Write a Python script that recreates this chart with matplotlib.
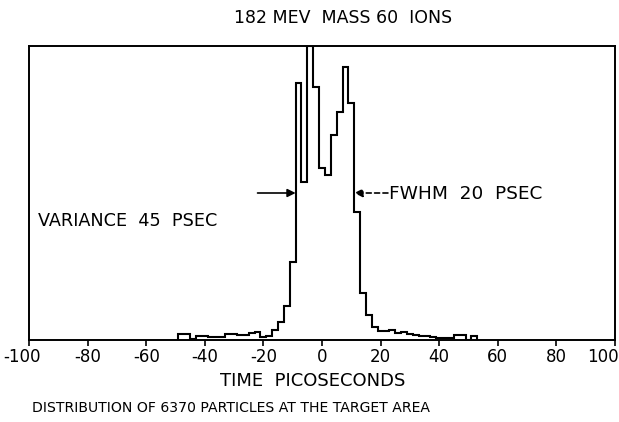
import numpy as np
import matplotlib
matplotlib.use("Agg")
import matplotlib.pyplot as plt
import matplotlib.transforms as mtransforms

# ---- data (counts per 2 ps bin) ----
bin_width = 2.0
first_edge = -49.0
counts = [14, 14, 2, 9, 9, 7, 7, 7, 14, 14, 12, 12, 16, 18, 7, 9, 23, 41, 78, 180,
          591, 363, 676, 582, 396, 380, 472, 524, 628, 545, 294,
          108, 58, 30, 21, 21, 23, 16, 18, 14, 12, 9, 9, 7, 5, 5, 5, 12, 12, 0, 9]
tick_values = [-100, -80, -60, -40, -20, 0, 20, 40, 60, 80, 100]
tick_labels = ["-100", "-80", "-60", "-40", "-20", "0", "20", "40", "60", "80", "100"]
fwhm_left, fwhm_right = -9.0, 11.0
title = "182 MEV  MASS 60  IONS"
xlabel = "TIME  PICOSECONDS"
caption = "DISTRIBUTION OF 6370 PARTICLES AT THE TARGET AREA"
variance_text = "VARIANCE  45  PSEC"
fwhm_text = "FWHM  20  PSEC"

plt.rcParams['font.family'] = ['DejaVu Sans']
W, H = 619, 422
fig = plt.figure(figsize=(W / 100, H / 100), dpi=100)
ax = fig.add_axes([29 / W, (H - 340) / H, (615 - 29) / W, (340 - 46) / H])

counts_arr = np.array(counts, dtype=float)
edges = first_edge + bin_width * np.arange(len(counts_arr) + 1)
ax.stairs(counts_arr, edges, baseline=0, color="black", linewidth=1.5)

peak = counts_arr.max()
ax.set_xlim(-100, 100)
ax.set_ylim(0, peak)
for s in ax.spines.values():
    s.set_linewidth(1.4)
ax.set_yticks([])
ax.set_xticks(tick_values)
ax.set_xticklabels(tick_labels, fontsize=12)
ax.tick_params(axis="x", direction="out", length=4, width=1.2, pad=2)
labels = ax.get_xticklabels()
labels[0].set_transform(labels[0].get_transform() +
                        mtransforms.ScaledTranslation(-7 / 100, 0, fig.dpi_scale_trans))
labels[-1].set_horizontalalignment("right")
labels[-1].set_transform(labels[-1].get_transform() +
                         mtransforms.ScaledTranslation(4 / 100, 0, fig.dpi_scale_trans))

half = peak / 2
ax.annotate("", xy=(fwhm_left, half), xytext=(-22, half),
            arrowprops=dict(arrowstyle="-|>", color="black", lw=1.2,
                            mutation_scale=12, shrinkA=0, shrinkB=0))
ax.annotate("", xy=(fwhm_right, half), xytext=(22.5, half),
            arrowprops=dict(arrowstyle="-|>", color="black", lw=1.2, linestyle=(0, (3, 2)),
                            mutation_scale=12, shrinkA=0, shrinkB=0))
ax.text(23.0, half - 2, fwhm_text, fontsize=13.3, va="center", ha="left")

fig.text(38 / W, 1 - 221 / H, variance_text, fontsize=12.7, va="center", ha="left")
fig.text(343 / W, 1 - 18 / H, title, fontsize=12.5, va="center", ha="center")
fig.text(313 / W, 1 - 381 / H, xlabel, fontsize=13, va="center", ha="center")
fig.text(32 / W, 1 - 408 / H, caption, fontsize=10.1, va="center", ha="left")

fig.savefig("out.png", dpi=100)
